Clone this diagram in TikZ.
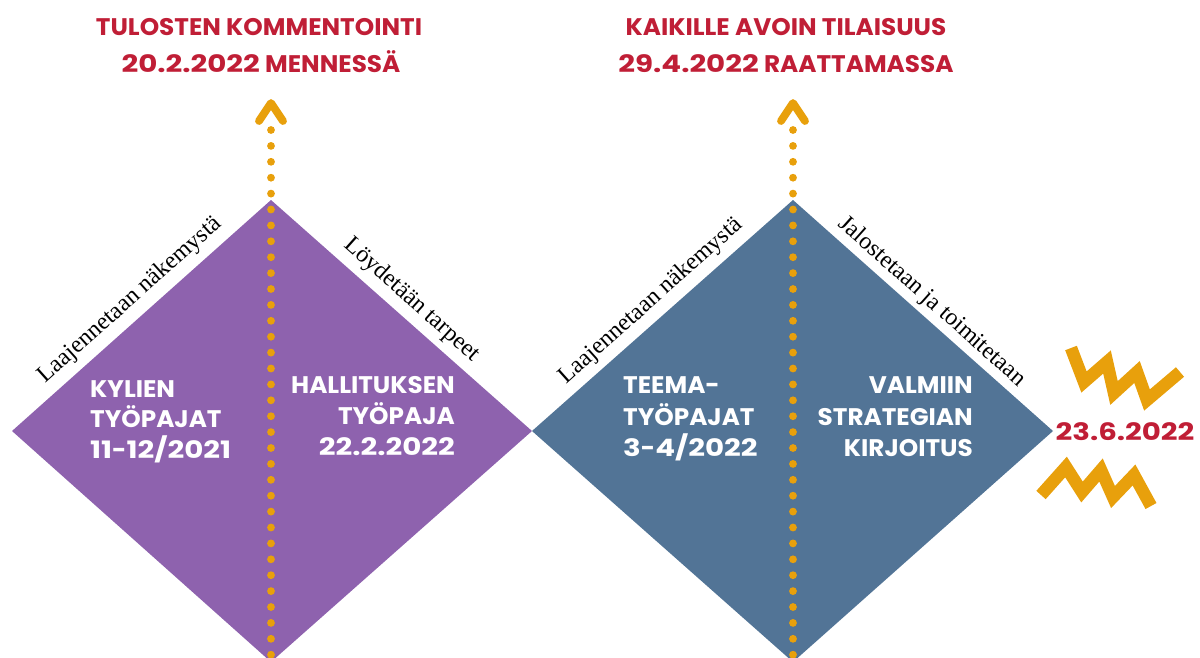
\documentclass[tikz,border=0pt]{standalone}
\usepackage{fontspec}
\setmainfont{Liberation Serif}
\newfontfamily\pop{Poppins}[FakeStretch=1.03]
\newfontfamily\popd{Poppins}[FakeStretch=1.22]
\definecolor{dpurple}{HTML}{8E62AE}
\definecolor{dblue}{HTML}{527496}
\definecolor{dorange}{HTML}{E8A00C}
\definecolor{dred}{HTML}{C01E36}
\newcommand{\digs}[1]{{\popd\bfseries #1}}
\tikzset{
  dotline/.style={draw=dorange, line width=7.8pt, line cap=round, dash pattern=on 0pt off 15.9pt},
  chevron/.style={draw=dorange, line width=7.8pt, line cap=round, line join=round},
  zigzag/.style={draw=dorange, line width=12.5pt, line join=miter, line cap=butt},
  wtext/.style={text=white, inner sep=0pt, font=\pop\bfseries\fontsize{24}{28}\selectfont},
  rtext/.style={text=dred, inner sep=0pt, font=\pop\bfseries\fontsize{24}{28}\selectfont},
  side/.style={text=black, inner sep=0pt, font=\fontsize{24}{28}\selectfont},
}
\begin{document}
\begin{tikzpicture}[x=1pt,y=-1pt]
\useasboundingbox (0,0) rectangle (1200,657);
\clip (0,0) rectangle (1200,657);
% diamond vertices
\coordinate (LL) at (12,431);
\coordinate (LT) at (271,200);
\coordinate (LR) at (532,431);
\coordinate (LB) at (271,662);
\coordinate (RT) at (793,200);
\coordinate (RR) at (1053,431);
\coordinate (RB) at (793,662);
\fill[dpurple] (LL) -- (LT) -- (LR) -- (LB) -- cycle;
\fill[dblue] (LR) -- (RT) -- (RR) -- (RB) -- cycle;
% dotted lines with arrow heads
\coordinate (A1s) at (271,130);
\coordinate (A1e) at (271,666);
\coordinate (A1tip) at (271,103);
\coordinate (A1l) at (259,121);
\coordinate (A1r) at (283,121);
\draw[dotline] (A1s) -- (A1e);
\draw[chevron] (A1l) -- (A1tip) -- (A1r);
\coordinate (A2s) at (793,130);
\coordinate (A2e) at (793,666);
\coordinate (A2tip) at (793,103);
\coordinate (A2l) at (781,121);
\coordinate (A2r) at (805,121);
\draw[dotline] (A2s) -- (A2e);
\draw[chevron] (A2l) -- (A2tip) -- (A2r);
% titles
\node[rtext, anchor=base] (t1a) at (259,35) {TULOSTEN KOMMENTOINTI};
\node[rtext, anchor=base] (t1b) at (261,72) {\digs{20.2.2022} MENNESSÄ};
\node[rtext, anchor=base] (t2a) at (786,35) {KAIKILLE AVOIN TILAISUUS};
\node[rtext, anchor=base] (t2b) at (786,72) {\digs{29.4.2022} RAATTAMASSA};
% side labels
\node[side, rotate=41.85] (s1) at (130,300) {Laajennetaan näkemystä};
\node[side, rotate=-41.7] (s2) at (412,300) {Löydetään tarpeet};
\node[side, rotate=41.85] (s3) at (651,301) {Laajennetaan näkemystä};
\node[side, rotate=-41.7] (s4) at (932,302) {Jalostetaan ja toimitetaan};
% diamond texts
\node[wtext, anchor=base west] (k1) at (90,397) {KYLIEN};
\node[wtext, anchor=base west] (k2) at (90,427) {TYÖPAJAT};
\node[wtext, anchor=base west] (k3) at (90,458) {\digs{11}-\digs{12/2021}};
\node[wtext, anchor=base east] (h1) at (455,393) {HALLITUKSEN};
\node[wtext, anchor=base east] (h2) at (455,424) {TYÖPAJA};
\node[wtext, anchor=base east] (h3) at (455,455) {\digs{22.2.2022}};
\node[wtext, anchor=base west] (m1) at (623,393) {TEEMA-};
\node[wtext, anchor=base west] (m2) at (623,425) {TYÖPAJAT};
\node[wtext, anchor=base west] (m3) at (623,456) {\digs{3}-\digs{4/2022}};
\node[wtext, anchor=base east] (v1) at (973,393) {VALMIIN};
\node[wtext, anchor=base east] (v2) at (973,425) {STRATEGIAN};
\node[wtext, anchor=base east] (v3) at (973,456) {KIRJOITUS};
% end date
\node[rtext, anchor=base] (d1) at (1125,440) {\digs{23.6.2022}};
% zigzags
\draw[zigzag] (1071,348) -- (1084,382) -- (1107,362) -- (1114,393) -- (1137,372) -- (1147,400) -- (1180,372);
\draw[zigzag] (1041,495) -- (1066,467) -- (1082,492) -- (1101,470) -- (1113,497) -- (1134,475) -- (1151,506);
\end{tikzpicture}
\end{document}
